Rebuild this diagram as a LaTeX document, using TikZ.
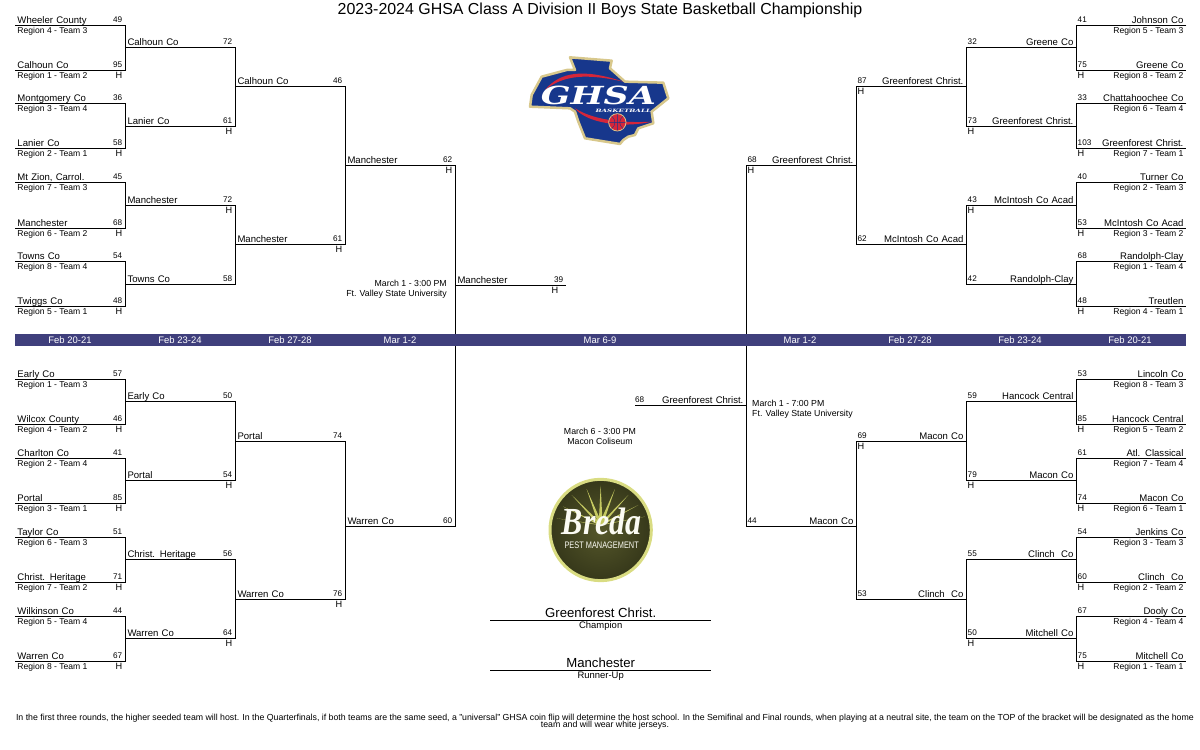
\documentclass[tikz,border=0pt]{standalone}
\usepackage{fontspec}
\setmainfont{Liberation Sans}
\newfontfamily\ghsafont{DejaVu Serif}
\newfontfamily\bredafont{Liberation Serif}
\usepackage{xcolor}
\usetikzlibrary{positioning}
\definecolor{bandblue}{HTML}{3F3F7C}
\definecolor{ghsanavy}{HTML}{17378C}
\definecolor{ghsacream}{HTML}{D8C88C}
\definecolor{ghsared}{HTML}{D5263A}
\definecolor{bredaring}{HTML}{D9DC82}
\definecolor{bredaray}{HTML}{C6CA62}
\definecolor{bredadark}{HTML}{36381A}
\definecolor{bredamid}{HTML}{55572A}
\tikzset{
  slot/.style={anchor=south west, minimum width=110bp, inner xsep=2.3bp, inner ysep=1.4bp, text height=8bp, text depth=0pt, font=\fontsize{9.6}{10}\selectfont},
  teamL/.style={slot, text width=105.4bp, align=left},
  teamR/.style={slot, text width=104.4bp, inner xsep=2.8bp, align=right},
  scoreL/.style={anchor=south east, inner sep=0pt, xshift=-3bp, yshift=2.4bp, text depth=0pt, font=\fontsize{8.2}{9}\selectfont},
  scoreR/.style={anchor=south west, inner sep=0pt, xshift=1.5bp, yshift=2.4bp, text depth=0pt, font=\fontsize{8.2}{9}\selectfont},
  hostL/.style={anchor=north east, inner sep=0pt, xshift=-3bp, yshift=-0.7bp, text height=7.8bp, text depth=0pt, font=\fontsize{9.2}{10}\selectfont},
  hostR/.style={anchor=north west, inner sep=0pt, xshift=1.5bp, yshift=-0.7bp, text height=7.8bp, text depth=0pt, font=\fontsize{9.2}{10}\selectfont},
  regionL/.style={anchor=north west, inner sep=0pt, xshift=2.3bp, yshift=-0.7bp, text height=7.8bp, text depth=0pt, font=\fontsize{8.6}{9}\selectfont},
  regionR/.style={anchor=north east, inner sep=0pt, xshift=-2.8bp, yshift=-0.7bp, text height=7.8bp, text depth=0pt, font=\fontsize{8.6}{9}\selectfont},
  bar/.style={line width=0.9bp, black, xshift=0.5bp, yshift=-0.5bp},
  dateband/.style={fill=bandblue, inner sep=0pt, minimum width=1171bp, minimum height=12bp},
  datetext/.style={text=white, inner sep=0pt, font=\fontsize{9.5}{10}\selectfont},
  venue/.style={inner sep=0pt, font=\fontsize{8.8}{10.2}\selectfont},
  winner/.style={anchor=south west, minimum width=221bp, inner sep=0pt, text height=10bp, text depth=2.2bp, font=\fontsize{13.2}{14}\selectfont},
  winnertag/.style={anchor=north, inner sep=0pt, yshift=-1.2bp, text height=7bp, text depth=0pt, font=\fontsize{9.5}{10}\selectfont},
  footnote/.style={inner sep=0pt, text height=6.4bp, text depth=0pt, font=\fontsize{8.8}{9}\selectfont}
}
\begin{document}
\begin{tikzpicture}[x=1bp, y=-1bp]
    \useasboundingbox (0,0) rectangle (1200,750);

    % Title
    \node[inner sep=0pt, font=\fontsize{16}{18}\selectfont] (title) at (600,10.5) {2023-2024 GHSA Class A Division II Boys State Basketball Championship};

    % Top left, first round
    \node[teamL] (tla1) at (15,25) {Wheeler County}; \node[scoreL] (tla1s) at (tla1.south east) {49}; \node[regionL] (tla1r) at (tla1.south west) {Region 4 - Team 3};
    \node[teamL] (tla2) at (15,70) {Calhoun Co}; \node[scoreL] (tla2s) at (tla2.south east) {95}; \node[regionL] (tla2r) at (tla2.south west) {Region 1 - Team 2}; \node[hostL] (tla2h) at (tla2.south east) {H};
    \node[teamL] (tla3) at (15,103) {Montgomery Co}; \node[scoreL] (tla3s) at (tla3.south east) {36}; \node[regionL] (tla3r) at (tla3.south west) {Region 3 - Team 4};
    \node[teamL] (tla4) at (15,148) {Lanier Co}; \node[scoreL] (tla4s) at (tla4.south east) {58}; \node[regionL] (tla4r) at (tla4.south west) {Region 2 - Team 1}; \node[hostL] (tla4h) at (tla4.south east) {H};
    \node[teamL] (tla5) at (15,182) {Mt Zion, Carrol.}; \node[scoreL] (tla5s) at (tla5.south east) {45}; \node[regionL] (tla5r) at (tla5.south west) {Region 7 - Team 3};
    \node[teamL] (tla6) at (15,228) {Manchester}; \node[scoreL] (tla6s) at (tla6.south east) {68}; \node[regionL] (tla6r) at (tla6.south west) {Region 6 - Team 2}; \node[hostL] (tla6h) at (tla6.south east) {H};
    \node[teamL] (tla7) at (15,261) {Towns Co}; \node[scoreL] (tla7s) at (tla7.south east) {54}; \node[regionL] (tla7r) at (tla7.south west) {Region 8 - Team 4};
    \node[teamL] (tla8) at (15,306) {Twiggs Co}; \node[scoreL] (tla8s) at (tla8.south east) {48}; \node[regionL] (tla8r) at (tla8.south west) {Region 5 - Team 1}; \node[hostL] (tla8h) at (tla8.south east) {H};

    % Top left, later rounds
    \node[teamL] (tlb1) at (125,47) {Calhoun Co}; \node[scoreL] (tlb1s) at (tlb1.south east) {72};
    \node[teamL] (tlb2) at (125,126) {Lanier Co}; \node[scoreL] (tlb2s) at (tlb2.south east) {61}; \node[hostL] (tlb2h) at (tlb2.south east) {H};
    \node[teamL] (tlb3) at (125,205) {Manchester}; \node[scoreL] (tlb3s) at (tlb3.south east) {72}; \node[hostL] (tlb3h) at (tlb3.south east) {H};
    \node[teamL] (tlb4) at (125,284) {Towns Co}; \node[scoreL] (tlb4s) at (tlb4.south east) {58};
    \node[teamL] (tlc1) at (235,86) {Calhoun Co}; \node[scoreL] (tlc1s) at (tlc1.south east) {46};
    \node[teamL] (tlc2) at (235,244) {Manchester}; \node[scoreL] (tlc2s) at (tlc2.south east) {61}; \node[hostL] (tlc2h) at (tlc2.south east) {H};
    \node[teamL] (tld1) at (345,165) {Manchester}; \node[scoreL] (tld1s) at (tld1.south east) {62}; \node[hostL] (tld1h) at (tld1.south east) {H};

    % Bottom left, first round
    \node[teamL] (bla1) at (15,379) {Early Co}; \node[scoreL] (bla1s) at (bla1.south east) {57}; \node[regionL] (bla1r) at (bla1.south west) {Region 1 - Team 3};
    \node[teamL] (bla2) at (15,424) {Wilcox County}; \node[scoreL] (bla2s) at (bla2.south east) {46}; \node[regionL] (bla2r) at (bla2.south west) {Region 4 - Team 2}; \node[hostL] (bla2h) at (bla2.south east) {H};
    \node[teamL] (bla3) at (15,458) {Charlton Co}; \node[scoreL] (bla3s) at (bla3.south east) {41}; \node[regionL] (bla3r) at (bla3.south west) {Region 2 - Team 4};
    \node[teamL] (bla4) at (15,503) {Portal}; \node[scoreL] (bla4s) at (bla4.south east) {85}; \node[regionL] (bla4r) at (bla4.south west) {Region 3 - Team 1}; \node[hostL] (bla4h) at (bla4.south east) {H};
    \node[teamL] (bla5) at (15,537) {Taylor Co}; \node[scoreL] (bla5s) at (bla5.south east) {51}; \node[regionL] (bla5r) at (bla5.south west) {Region 6 - Team 3};
    \node[teamL] (bla6) at (15,582) {Christ. Heritage}; \node[scoreL] (bla6s) at (bla6.south east) {71}; \node[regionL] (bla6r) at (bla6.south west) {Region 7 - Team 2}; \node[hostL] (bla6h) at (bla6.south east) {H};
    \node[teamL] (bla7) at (15,616) {Wilkinson Co}; \node[scoreL] (bla7s) at (bla7.south east) {44}; \node[regionL] (bla7r) at (bla7.south west) {Region 5 - Team 4};
    \node[teamL] (bla8) at (15,661) {Warren Co}; \node[scoreL] (bla8s) at (bla8.south east) {67}; \node[regionL] (bla8r) at (bla8.south west) {Region 8 - Team 1}; \node[hostL] (bla8h) at (bla8.south east) {H};

    % Bottom left, later rounds
    \node[teamL] (blb1) at (125,401) {Early Co}; \node[scoreL] (blb1s) at (blb1.south east) {50};
    \node[teamL] (blb2) at (125,480) {Portal}; \node[scoreL] (blb2s) at (blb2.south east) {54}; \node[hostL] (blb2h) at (blb2.south east) {H};
    \node[teamL] (blb3) at (125,559) {Christ. Heritage}; \node[scoreL] (blb3s) at (blb3.south east) {56};
    \node[teamL] (blb4) at (125,638) {Warren Co}; \node[scoreL] (blb4s) at (blb4.south east) {64}; \node[hostL] (blb4h) at (blb4.south east) {H};
    \node[teamL] (blc1) at (235,441) {Portal}; \node[scoreL] (blc1s) at (blc1.south east) {74};
    \node[teamL] (blc2) at (235,599) {Warren Co}; \node[scoreL] (blc2s) at (blc2.south east) {76}; \node[hostL] (blc2h) at (blc2.south east) {H};
    \node[teamL] (bld1) at (345,526) {Warren Co}; \node[scoreL] (bld1s) at (bld1.south east) {60};

    % Top right, first round
    \node[teamR] (tra1) at (1076,25) {Johnson Co}; \node[scoreR] (tra1s) at (tra1.south west) {41}; \node[regionR] (tra1r) at (tra1.south east) {Region 5 - Team 3};
    \node[teamR] (tra2) at (1076,70) {Greene Co}; \node[scoreR] (tra2s) at (tra2.south west) {75}; \node[regionR] (tra2r) at (tra2.south east) {Region 8 - Team 2}; \node[hostR] (tra2h) at (tra2.south west) {H};
    \node[teamR] (tra3) at (1076,103) {Chattahoochee Co}; \node[scoreR] (tra3s) at (tra3.south west) {33}; \node[regionR] (tra3r) at (tra3.south east) {Region 6 - Team 4};
    \node[teamR] (tra4) at (1076,148) {Greenforest Christ.}; \node[scoreR] (tra4s) at (tra4.south west) {103}; \node[regionR] (tra4r) at (tra4.south east) {Region 7 - Team 1}; \node[hostR] (tra4h) at (tra4.south west) {H};
    \node[teamR] (tra5) at (1076,182) {Turner Co}; \node[scoreR] (tra5s) at (tra5.south west) {40}; \node[regionR] (tra5r) at (tra5.south east) {Region 2 - Team 3};
    \node[teamR] (tra6) at (1076,228) {McIntosh Co Acad}; \node[scoreR] (tra6s) at (tra6.south west) {53}; \node[regionR] (tra6r) at (tra6.south east) {Region 3 - Team 2}; \node[hostR] (tra6h) at (tra6.south west) {H};
    \node[teamR] (tra7) at (1076,261) {Randolph-Clay}; \node[scoreR] (tra7s) at (tra7.south west) {68}; \node[regionR] (tra7r) at (tra7.south east) {Region 1 - Team 4};
    \node[teamR] (tra8) at (1076,306) {Treutlen}; \node[scoreR] (tra8s) at (tra8.south west) {48}; \node[regionR] (tra8r) at (tra8.south east) {Region 4 - Team 1}; \node[hostR] (tra8h) at (tra8.south west) {H};

    % Top right, later rounds
    \node[teamR] (trb1) at (966,47) {Greene Co}; \node[scoreR] (trb1s) at (trb1.south west) {32};
    \node[teamR] (trb2) at (966,126) {Greenforest Christ.}; \node[scoreR] (trb2s) at (trb2.south west) {73}; \node[hostR] (trb2h) at (trb2.south west) {H};
    \node[teamR] (trb3) at (966,205) {McIntosh Co Acad}; \node[scoreR] (trb3s) at (trb3.south west) {43}; \node[hostR] (trb3h) at (trb3.south west) {H};
    \node[teamR] (trb4) at (966,284) {Randolph-Clay}; \node[scoreR] (trb4s) at (trb4.south west) {42};
    \node[teamR] (trc1) at (856,86) {Greenforest Christ.}; \node[scoreR] (trc1s) at (trc1.south west) {87}; \node[hostR] (trc1h) at (trc1.south west) {H};
    \node[teamR] (trc2) at (856,244) {McIntosh Co Acad}; \node[scoreR] (trc2s) at (trc2.south west) {62};
    \node[teamR] (trd1) at (746,165) {Greenforest Christ.}; \node[scoreR] (trd1s) at (trd1.south west) {68}; \node[hostR] (trd1h) at (trd1.south west) {H};

    % Bottom right, first round
    \node[teamR] (bra1) at (1076,379) {Lincoln Co}; \node[scoreR] (bra1s) at (bra1.south west) {53}; \node[regionR] (bra1r) at (bra1.south east) {Region 8 - Team 3};
    \node[teamR] (bra2) at (1076,424) {Hancock Central}; \node[scoreR] (bra2s) at (bra2.south west) {85}; \node[regionR] (bra2r) at (bra2.south east) {Region 5 - Team 2}; \node[hostR] (bra2h) at (bra2.south west) {H};
    \node[teamR] (bra3) at (1076,458) {Atl. Classical}; \node[scoreR] (bra3s) at (bra3.south west) {61}; \node[regionR] (bra3r) at (bra3.south east) {Region 7 - Team 4};
    \node[teamR] (bra4) at (1076,503) {Macon Co}; \node[scoreR] (bra4s) at (bra4.south west) {74}; \node[regionR] (bra4r) at (bra4.south east) {Region 6 - Team 1}; \node[hostR] (bra4h) at (bra4.south west) {H};
    \node[teamR] (bra5) at (1076,537) {Jenkins Co}; \node[scoreR] (bra5s) at (bra5.south west) {54}; \node[regionR] (bra5r) at (bra5.south east) {Region 3 - Team 3};
    \node[teamR] (bra6) at (1076,582) {Clinch\ \ Co}; \node[scoreR] (bra6s) at (bra6.south west) {60}; \node[regionR] (bra6r) at (bra6.south east) {Region 2 - Team 2}; \node[hostR] (bra6h) at (bra6.south west) {H};
    \node[teamR] (bra7) at (1076,616) {Dooly Co}; \node[scoreR] (bra7s) at (bra7.south west) {67}; \node[regionR] (bra7r) at (bra7.south east) {Region 4 - Team 4};
    \node[teamR] (bra8) at (1076,661) {Mitchell Co}; \node[scoreR] (bra8s) at (bra8.south west) {75}; \node[regionR] (bra8r) at (bra8.south east) {Region 1 - Team 1}; \node[hostR] (bra8h) at (bra8.south west) {H};

    % Bottom right, later rounds
    \node[teamR] (brb1) at (966,401) {Hancock Central}; \node[scoreR] (brb1s) at (brb1.south west) {59};
    \node[teamR] (brb2) at (966,480) {Macon Co}; \node[scoreR] (brb2s) at (brb2.south west) {79}; \node[hostR] (brb2h) at (brb2.south west) {H};
    \node[teamR] (brb3) at (966,559) {Clinch\ \ Co}; \node[scoreR] (brb3s) at (brb3.south west) {55};
    \node[teamR] (brb4) at (966,638) {Mitchell Co}; \node[scoreR] (brb4s) at (brb4.south west) {50}; \node[hostR] (brb4h) at (brb4.south west) {H};
    \node[teamR] (brc1) at (856,441) {Macon Co}; \node[scoreR] (brc1s) at (brc1.south west) {69}; \node[hostR] (brc1h) at (brc1.south west) {H};
    \node[teamR] (brc2) at (856,599) {Clinch\ \ Co}; \node[scoreR] (brc2s) at (brc2.south west) {53};
    \node[teamR] (brd1) at (746,526) {Macon Co}; \node[scoreR] (brd1s) at (brd1.south west) {44};

    % Semifinal winners
    \node[teamL, minimum width=111bp, text width=106.4bp] (finalL) at (455,285) {Manchester}; \node[scoreL] (finalLs) at (finalL.south east) {39}; \node[hostL, xshift=-5bp] (finalLh) at (finalL.south east) {H};
    \node[teamR, minimum width=111bp, text width=105.4bp] (finalR) at (635,405) {Greenforest Christ.}; \node[scoreR, xshift=-1.5bp] (finalRs) at (finalR.south west) {68};

    % Bracket lines, left side
    \foreach \i/\j in {tla1/tla2, tla3/tla4, tla5/tla6, tla7/tla8, tlb1/tlb2, tlb3/tlb4, tlc1/tlc2, tld1/bld1, bla1/bla2, bla3/bla4, bla5/bla6, bla7/bla8, blb1/blb2, blb3/blb4, blc1/blc2}
        \draw[bar] (\i.south west) -- (\i.south east) -- (\j.south east) -- (\j.south west);

    % Bracket lines, right side
    \foreach \i/\j in {tra1/tra2, tra3/tra4, tra5/tra6, tra7/tra8, trb1/trb2, trb3/trb4, trc1/trc2, trd1/brd1, bra1/bra2, bra3/bra4, bra5/bra6, bra7/bra8, brb1/brb2, brb3/brb4, brc1/brc2}
        \draw[bar] (\i.south east) -- (\i.south west) -- (\j.south west) -- (\j.south east);

    \draw[bar] (finalL.south west) -- (finalL.south east);
    \draw[bar] (finalR.south west) -- (finalR.south east);

    % Date band
    \node[dateband] (band) at (600.5,340) {};
    \node[datetext] (date1) at (70,340) {Feb 20-21};
    \node[datetext] (date2) at (180,340) {Feb 23-24};
    \node[datetext] (date3) at (290,340) {Feb 27-28};
    \node[datetext] (date4) at (400,340) {Mar 1-2};
    \node[datetext] (date5) at (600,340) {Mar 6-9};
    \node[datetext] (date6) at (800,340) {Mar 1-2};
    \node[datetext] (date7) at (910,340) {Feb 27-28};
    \node[datetext] (date8) at (1020,340) {Feb 23-24};
    \node[datetext] (date9) at (1130,340) {Feb 20-21};

    % Game times
    \node[venue, align=right, anchor=east] (semiL) at (447,289) {March 1 - 3:00 PM\\Ft. Valley State University};
    \node[venue, align=left, anchor=west] (semiR) at (752,409) {March 1 - 7:00 PM\\Ft. Valley State University};
    \node[venue, align=center] (finalgame) at (600,436.5) {March 6 - 3:00 PM\\Macon Coliseum};

    % Champion and runner-up
    \node[winner] (champ) at (490,620) {\hfill Greenforest Christ.\hfill\null};
    \node[winnertag] (champtag) at (champ.south) {Champion};
    \node[winner] (second) at (490,670) {\hfill Manchester\hfill\null};
    \node[winnertag] (secondtag) at (second.south) {Runner-Up};
    \draw[bar] (champ.south west) -- (champ.south east);
    \draw[bar] (second.south west) -- (second.south east);

    % Footnote
    \node[footnote] (note1) at (605,717) {In the first three rounds, the higher seeded team will host. In the Quarterfinals, if both teams are the same seed, a "universal" GHSA coin flip will determine the host school. In the Semifinal and Final rounds, when playing at a neutral site, the team on the TOP of the bracket will be designated as the home};
    \node[footnote] (note2) at (605,724) {team and will wear white jerseys.};

    % GHSA logo
    \begin{scope}[shift={(510,40)}, x=0.3333bp, y=-0.3333bp]
        \draw[fill=ghsanavy, draw=ghsacream, line width=2.5bp, line join=round] (180,52) -- (305,62) -- (300,85) -- (345,125) -- (460,128) -- (475,175) -- (425,215) -- (430,250) -- (385,265) -- (375,285) -- (355,290) -- (340,300) -- (330,312) -- (225,295) -- (205,245) -- (195,215) -- (180,205) -- (60,200) -- (65,165) -- (95,110) -- (170,90) -- (195,90) -- cycle;
        \fill[ghsared] (105,150) .. controls (150,95) and (220,85) .. (340,125) .. controls (230,100) and (160,105) .. (105,150);
        \fill[ghsared] (195,205) .. controls (230,250) and (340,265) .. (425,245) .. controls (340,250) and (250,240) .. (195,205);
        \node[inner sep=0pt, text=white, text height=18bp, text depth=0pt, font=\ghsafont\bfseries\itshape\fontsize{25}{25}\selectfont] (ghsa) at (265,168) {\scalebox{1.4}[1]{GHSA}};
        \node[inner sep=0pt, text=white, text height=3.4bp, text depth=0pt, font=\ghsafont\bfseries\itshape\fontsize{4.5}{5}\selectfont] (ghsasport) at (340,212) {\scalebox{1.6}[1]{BASKETBALL}};
        \draw[fill=ghsared, draw=ghsacream, line width=0.8bp] (322,247) circle (26);
        \draw[ghsanavy, line width=0.4bp] (298,247) -- (346,247) (322,223) -- (322,271) (305,228) .. controls (318,240) and (318,255) .. (305,266) (339,228) .. controls (326,240) and (326,255) .. (339,266);
    \end{scope}

    % Breda logo
    \begin{scope}[shift={(530,465)}, x=0.3333bp, y=-0.3333bp]
        \shade[inner color=bredamid, outer color=bredadark] (212,195) circle (152);
        \draw[bredaring, line width=3bp] (212,195) circle (152);
        \foreach \tipx/\tipy in {100/125, 125/90, 170/72, 212/62, 255/72, 295/90, 325/120, 345/155, 80/160}
            \fill[bredaray] (\tipx,\tipy) -- (206,180) -- (218,180) -- cycle;
        \node[inner sep=0pt, text=white!90!bredaring, text height=21bp, text depth=0pt, font=\bredafont\bfseries\itshape\fontsize{32}{32}\selectfont] (breda) at (215,178) {\scalebox{1}[1.2]{Breda}};
        \node[inner sep=0pt, text=white!90!bredaring, text height=7bp, text depth=0pt, font=\fontsize{9.5}{10}\selectfont] (bredatag) at (215,240) {\scalebox{0.78}[1]{PEST MANAGEMENT}};
    \end{scope}
\end{tikzpicture}
\end{document}
